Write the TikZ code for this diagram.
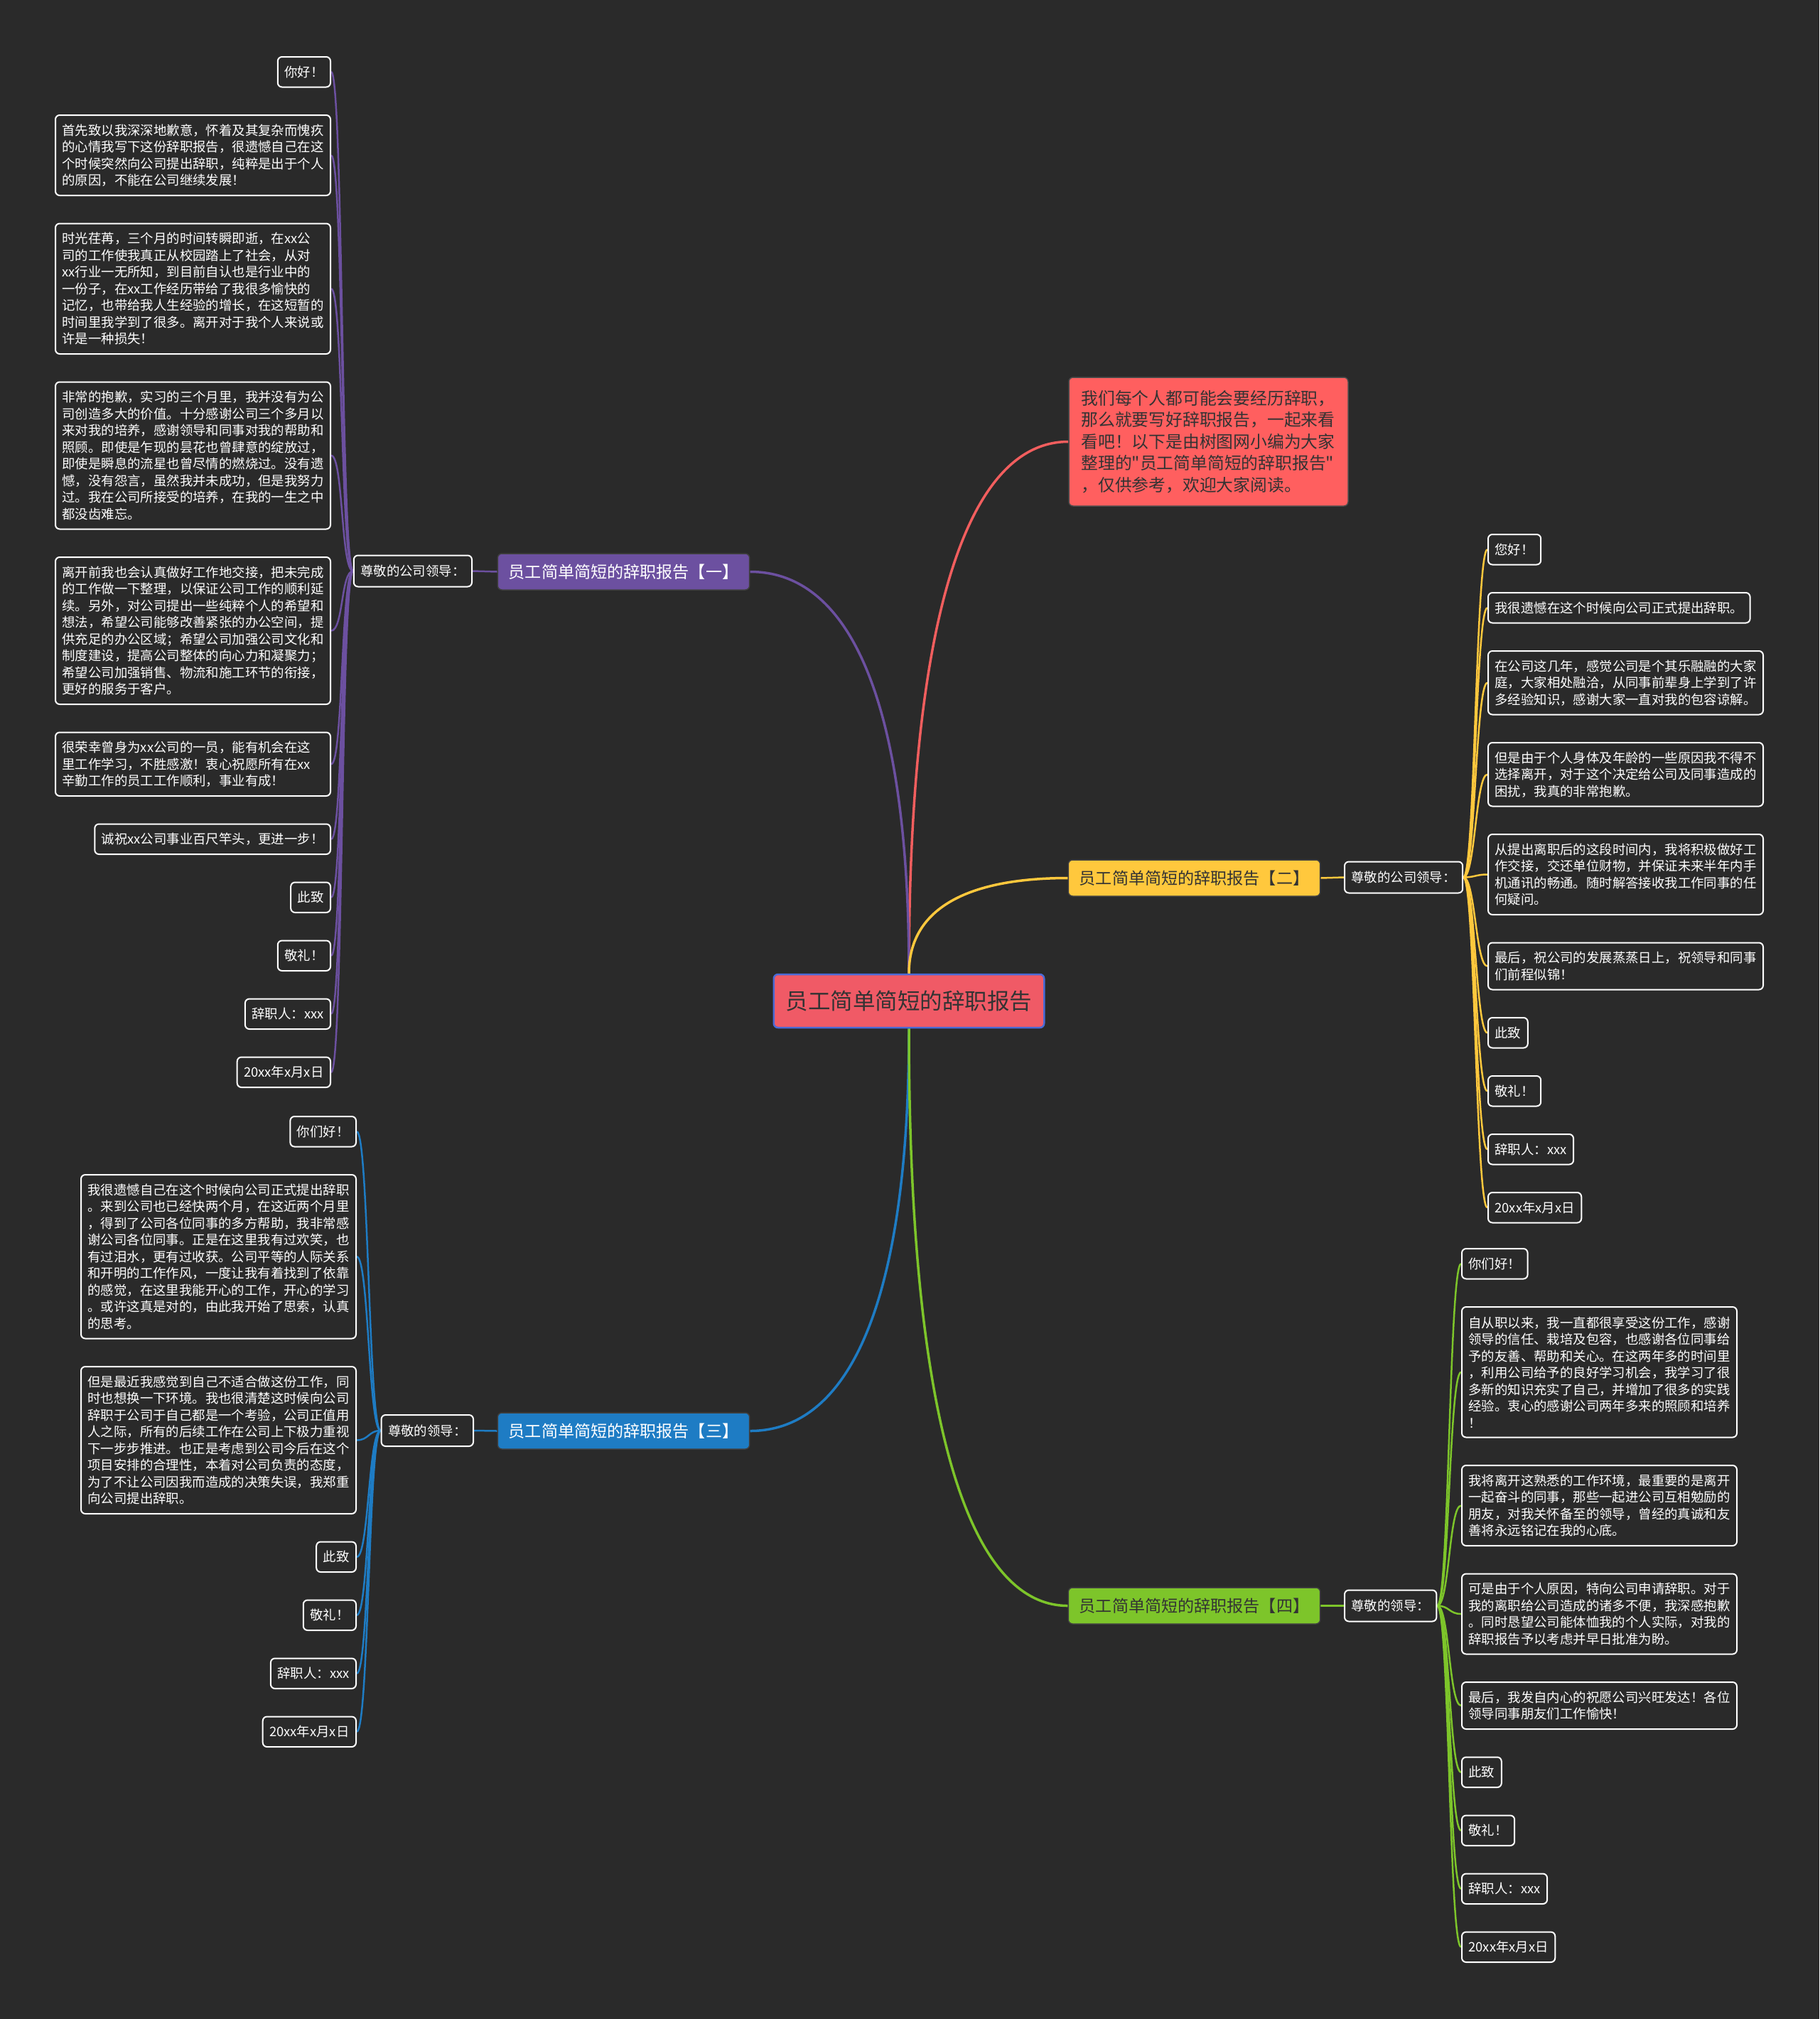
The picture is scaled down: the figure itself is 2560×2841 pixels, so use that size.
\documentclass[tikz,border=0pt]{standalone}
\usepackage{fontspec}
\newfontfamily\cjk{Noto Sans CJK SC}
\usetikzlibrary{calc,backgrounds}
\definecolor{bg}{HTML}{2A2A2A}
\definecolor{cpur}{HTML}{6C50A0}
\definecolor{cblue}{HTML}{1E7CC4}
\definecolor{cyel}{HTML}{FFC83D}
\definecolor{cgrn}{HTML}{7DC52A}
\definecolor{cred}{HTML}{F25E5E}
\definecolor{cintro}{HTML}{FF5F5F}
\definecolor{ccenter}{HTML}{F05A66}
\definecolor{cborder}{HTML}{4A6AD6}
\definecolor{dtext}{HTML}{333333}
\begin{document}
\begin{tikzpicture}[x=1pt,y=-1pt,
  leaf/.style={font=\cjk\fontsize{18.4pt}{23.5pt}\selectfont, draw=white, line width=2pt, fill=bg, text=white,
    rounded corners=6pt, align=left, inner xsep=9.5pt, inner ysep=0pt, minimum height=42.5pt},
  tw/.style={text width=368pt},
  nl/.style={minimum height={#1*23.5pt+19pt}},
  lbl/.style={leaf, minimum height=44pt},
  branch/.style={font=\cjk\fontsize{23.1pt}{28pt}\selectfont, rounded corners=6pt, inner xsep=15.5pt,
    inner ysep=0pt, minimum height=51pt, draw=black!75, line width=1.5pt},
  main/.style={line width=3.5pt},
  sub/.style={line width=2.5pt},
]
\useasboundingbox (0,0) rectangle (2560,2841);

% central and intro
\node[font=\cjk\fontsize{31.5pt}{36pt}\selectfont, fill=ccenter, draw=cborder, line width=2.5pt, text=dtext,
  rounded corners=6pt, inner xsep=17pt, inner ysep=0pt, minimum height=75pt] (C) at (1279,1408.5) {员工简单简短的辞职报告};
\node[font=\cjk\fontsize{23.8pt}{30.5pt}\selectfont, fill=cintro, draw=black!70, line width=1.5pt, text=dtext,
  rounded corners=6pt, align=left, text width=358pt, inner xsep=17.5pt, inner ysep=0pt, minimum height=181pt] (I) at (1700.5,621.5)
  {我们每个人都可能会要经历辞职，\\那么就要写好辞职报告，一起来看\\看吧！以下是由树图网小编为大家\\整理的"员工简单简短的辞职报告"\\，仅供参考，欢迎大家阅读。};

% branches
\node[branch, fill=cpur, text=white] (B1) at (877.5,804.5) {员工简单简短的辞职报告【一】};
\node[branch, fill=cyel, text=dtext] (B2) at (1680.5,1235.5) {员工简单简短的辞职报告【二】};
\node[branch, fill=cblue, text=white] (B3) at (877.5,2013.5) {员工简单简短的辞职报告【三】};
\node[branch, fill=cgrn, text=dtext] (B4) at (1680.5,2259.5) {员工简单简短的辞职报告【四】};

% labels
\node[lbl, anchor=east] (L1) at (665,803.5) {尊敬的公司领导：};
\node[lbl, anchor=west] (L2) at (1891,1234.5) {尊敬的公司领导：};
\node[lbl, anchor=east] (L3) at (667,2013) {尊敬的领导：};
\node[lbl, anchor=west] (L4) at (1891,2259.5) {尊敬的领导：};

% leaves of branch 1
\node[leaf, anchor=east] (a1) at (466,101.25) {你好！};
\node[leaf, tw, nl=4, anchor=east] (a2) at (466,218.5) {首先致以我深深地歉意，怀着及其复杂而愧疚\\的心情我写下这份辞职报告，很遗憾自己在这\\个时候突然向公司提出辞职，纯粹是出于个人\\的原因，不能在公司继续发展！};
\node[leaf, tw, nl=7, anchor=east] (a3) at (466,406.25) {时光荏苒，三个月的时间转瞬即逝，在xx公\\司的工作使我真正从校园踏上了社会，从对\\xx行业一无所知，到目前自认也是行业中的\\一份子，在xx工作经历带给了我很多愉快的\\记忆，也带给我人生经验的增长，在这短暂的\\时间里我学到了很多。离开对于我个人来说或\\许是一种损失！};
\node[leaf, tw, nl=8, anchor=east] (a4) at (466,641) {非常的抱歉，实习的三个月里，我并没有为公\\司创造多大的价值。十分感谢公司三个多月以\\来对我的培养，感谢领导和同事对我的帮助和\\照顾。即使是乍现的昙花也曾肆意的绽放过，\\即使是瞬息的流星也曾尽情的燃烧过。没有遗\\憾，没有怨言，虽然我并未成功，但是我努力\\过。我在公司所接受的培养，在我的一生之中\\都没齿难忘。};
\node[leaf, tw, nl=8, anchor=east] (a5) at (466,887.5) {离开前我也会认真做好工作地交接，把未完成\\的工作做一下整理，以保证公司工作的顺利延\\续。另外，对公司提出一些纯粹个人的希望和\\想法，希望公司能够改善紧张的办公空间，提\\供充足的办公区域；希望公司加强公司文化和\\制度建设，提高公司整体的向心力和凝聚力；\\希望公司加强销售、物流和施工环节的衔接，\\更好的服务于客户。};
\node[leaf, tw, nl=3, anchor=east] (a6) at (466,1075.25) {很荣幸曾身为xx公司的一员，能有机会在这\\里工作学习，不胜感激！衷心祝愿所有在xx\\辛勤工作的员工工作顺利，事业有成！};
\node[leaf, anchor=east] (a7) at (466,1180.75) {诚祝xx公司事业百尺竿头，更进一步！};
\node[leaf, anchor=east] (a8) at (466,1262.75) {此致};
\node[leaf, anchor=east] (a9) at (466,1344.75) {敬礼！};
\node[leaf, anchor=east] (a10) at (466,1426.75) {辞职人：xxx};
\node[leaf, anchor=east] (a11) at (466,1508.75) {20xx年x月x日};

% leaves of branch 2
\node[leaf, anchor=west] (b1) at (2093,773.25) {您好！};
\node[leaf, anchor=west] (b2) at (2093,855.25) {我很遗憾在这个时候向公司正式提出辞职。};
\node[leaf, tw, nl=3, anchor=west] (b3) at (2093,960.75) {在公司这几年，感觉公司是个其乐融融的大家\\庭，大家相处融洽，从同事前辈身上学到了许\\多经验知识，感谢大家一直对我的包容谅解。};
\node[leaf, tw, nl=3, anchor=west] (b4) at (2093,1089.75) {但是由于个人身体及年龄的一些原因我不得不\\选择离开，对于这个决定给公司及同事造成的\\困扰，我真的非常抱歉。};
\node[leaf, tw, nl=4, anchor=west] (b5) at (2093,1230.5) {从提出离职后的这段时间内，我将积极做好工\\作交接，交还单位财物，并保证未来半年内手\\机通讯的畅通。随时解答接收我工作同事的任\\何疑问。};
\node[leaf, tw, nl=2, anchor=west] (b6) at (2093,1359.5) {最后，祝公司的发展蒸蒸日上，祝领导和同事\\们前程似锦！};
\node[leaf, anchor=west] (b7) at (2093,1453.25) {此致};
\node[leaf, anchor=west] (b8) at (2093,1535.25) {敬礼！};
\node[leaf, anchor=west] (b9) at (2093,1617.25) {辞职人：xxx};
\node[leaf, anchor=west] (b10) at (2093,1699.25) {20xx年x月x日};

% leaves of branch 3
\node[leaf, anchor=east] (c1) at (502,1592.25) {你们好！};
\node[leaf, tw, nl=9, anchor=east] (c2) at (502,1768.25) {我很遗憾自己在这个时候向公司正式提出辞职\\。来到公司也已经快两个月，在这近两个月里\\，得到了公司各位同事的多方帮助，我非常感\\谢公司各位同事。正是在这里我有过欢笑，也\\有过泪水，更有过收获。公司平等的人际关系\\和开明的工作作风，一度让我有着找到了依靠\\的感觉，在这里我能开心的工作，开心的学习\\。或许这真是对的，由此我开始了思索，认真\\的思考。};
\node[leaf, tw, nl=8, anchor=east] (c3) at (502,2026.5) {但是最近我感觉到自己不适合做这份工作，同\\时也想换一下环境。我也很清楚这时候向公司\\辞职于公司于自己都是一个考验，公司正值用\\人之际，所有的后续工作在公司上下极力重视\\下一步步推进。也正是考虑到公司今后在这个\\项目安排的合理性，本着对公司负责的态度，\\为了不让公司因我而造成的决策失误，我郑重\\向公司提出辞职。};
\node[leaf, anchor=east] (c4) at (502,2190.75) {此致};
\node[leaf, anchor=east] (c5) at (502,2272.75) {敬礼！};
\node[leaf, anchor=east] (c6) at (502,2354.75) {辞职人：xxx};
\node[leaf, anchor=east] (c7) at (502,2436.75) {20xx年x月x日};

% leaves of branch 4
\node[leaf, anchor=west] (d1) at (2056,1778.25) {你们好！};
\node[leaf, tw, nl=7, anchor=west] (d2) at (2056,1930.75) {自从职以来，我一直都很享受这份工作，感谢\\领导的信任、栽培及包容，也感谢各位同事给\\予的友善、帮助和关心。在这两年多的时间里\\，利用公司给予的良好学习机会，我学习了很\\多新的知识充实了自己，并增加了很多的实践\\经验。衷心的感谢公司两年多来的照顾和培养\\！};
\node[leaf, tw, nl=4, anchor=west] (d3) at (2056,2118.5) {我将离开这熟悉的工作环境，最重要的是离开\\一起奋斗的同事，那些一起进公司互相勉励的\\朋友，对我关怀备至的领导，曾经的真诚和友\\善将永远铭记在我的心底。};
\node[leaf, tw, nl=4, anchor=west] (d4) at (2056,2271) {可是由于个人原因，特向公司申请辞职。对于\\我的离职给公司造成的诸多不便，我深感抱歉\\。同时恳望公司能体恤我的个人实际，对我的\\辞职报告予以考虑并早日批准为盼。};
\node[leaf, tw, nl=2, anchor=west] (d5) at (2056,2400) {最后，我发自内心的祝愿公司兴旺发达！各位\\领导同事朋友们工作愉快！};
\node[leaf, anchor=west] (d6) at (2056,2493.75) {此致};
\node[leaf, anchor=west] (d7) at (2056,2575.75) {敬礼！};
\node[leaf, anchor=west] (d8) at (2056,2657.75) {辞职人：xxx};
\node[leaf, anchor=west] (d9) at (2056,2739.75) {20xx年x月x日};

\begin{pgfonlayer}{background}
\fill[bg] (0,0) rectangle (2560,2841);
% main curves
\draw[main, cred] (C.north) .. controls ($(C.north)+(0,-525)$) and ($(I.west)+(-135,0)$) .. (I.west);
\draw[main, cpur] (C.north) .. controls ($(C.north)+(0,-397)$) and ($(B1.east)+(135,0)$) .. (B1.east);
\draw[main, cyel] (C.north) .. controls ($(C.north)+(0,-95)$) and ($(B2.west)+(-135,0)$) .. (B2.west);
\draw[main, cblue] (C.south) .. controls ($(C.south)+(0,397)$) and ($(B3.east)+(135,0)$) .. (B3.east);
\draw[main, cgrn] (C.south) .. controls ($(C.south)+(0,569)$) and ($(B4.west)+(-135,0)$) .. (B4.west);
% branch to label
\draw[sub, cpur] (B1.west) -- (L1.east);
\draw[sub, cyel] (B2.east) -- (L2.west);
\draw[sub, cblue] (B3.west) -- (L3.east);
\draw[sub, cgrn] (B4.east) -- (L4.west);
% label to leaves
\foreach \n in {a1,a2,a3,a4,a5,a6,a7,a8,a9,a10,a11}
  \draw[sub, cpur] (L1.west) .. controls ($(L1.west)+(-17,0)$) and ($(\n.east)+(17,0)$) .. (\n.east);
\foreach \n in {b1,b2,b3,b4,b5,b6,b7,b8,b9,b10}
  \draw[sub, cyel] (L2.east) .. controls ($(L2.east)+(16.5,0)$) and ($(\n.west)+(-16.5,0)$) .. (\n.west);
\foreach \n in {c1,c2,c3,c4,c5,c6,c7}
  \draw[sub, cblue] (L3.west) .. controls ($(L3.west)+(-17,0)$) and ($(\n.east)+(17,0)$) .. (\n.east);
\foreach \n in {d1,d2,d3,d4,d5,d6,d7,d8,d9}
  \draw[sub, cgrn] (L4.east) .. controls ($(L4.east)+(17,0)$) and ($(\n.west)+(-17,0)$) .. (\n.west);
\end{pgfonlayer}
\end{tikzpicture}
\end{document}
